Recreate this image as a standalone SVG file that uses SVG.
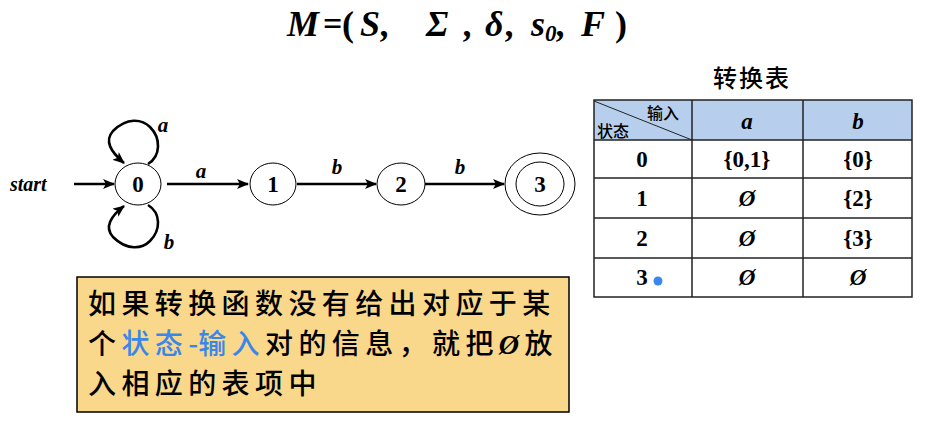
<svg xmlns="http://www.w3.org/2000/svg" width="930" height="425" viewBox="0 0 930 425">
<style>
.ser{font-family:"Liberation Serif","Times New Roman",serif;font-weight:bold;fill:#000}
.it{font-style:italic}
.cjk{font-family:"Noto Sans CJK SC","Noto Sans CJK JP",sans-serif}
.node{fill:#fff;stroke:#000;stroke-width:1}
.edge{fill:none;stroke:#000;stroke-width:2.6}
.grid{stroke:#222;stroke-width:1.5;fill:none}
.lbl{font-size:21px;text-anchor:middle}
.cell{font-size:23px;text-anchor:middle}
</style>
<defs>
<marker id="arr" viewBox="0 0 12 10" refX="11" refY="5" markerWidth="12" markerHeight="10" markerUnits="userSpaceOnUse" orient="auto">
<path d="M0,0 L12,5 L0,10 L3,5 z" fill="#000"/>
</marker>
</defs>
<rect width="930" height="425" fill="#fff"/>
<g id="title" class="ser it" font-size="36">
<text x="287" y="36" textLength="32" lengthAdjust="spacingAndGlyphs">M</text>
<text x="323" y="35" font-style="normal" font-size="34">=</text>
<text x="342" y="36" font-style="normal">(</text>
<text x="360" y="36">S</text>
<text x="381" y="36">,</text>
<text x="426" y="36">Σ</text>
<text x="464" y="36">,</text>
<text x="485" y="36">δ</text>
<text x="506" y="36">,</text>
<text x="531" y="36">s<tspan font-size="23" dy="5">0</tspan></text>
<text x="557" y="36">,</text>
<text x="581" y="36">F</text>
<text x="615" y="36" font-style="normal">)</text>
</g>
<g id="connectors">
<line class="edge" x1="74" y1="184" x2="114" y2="184" marker-end="url(#arr)"/>
<text class="ser it" x="10" y="191" font-size="20">start</text>
<path class="edge" d="M148,164 C161,156 161,138 150,127 C142,119 127,117 113,131 C104,141 111,152 124,163" marker-end="url(#arr)"/>
<text class="ser it lbl" x="163" y="132">a</text>
<path class="edge" d="M148,205 C161,213 161,230 150,241 C142,249 127,251 113,237 C104,227 111,216 124,206" marker-end="url(#arr)"/>
<text class="ser it lbl" x="169" y="249">b</text>
<line class="edge" x1="167" y1="184" x2="248" y2="184" marker-end="url(#arr)"/>
<text class="ser it lbl" x="201" y="178">a</text>
<line class="edge" x1="297" y1="184" x2="376" y2="184" marker-end="url(#arr)"/>
<text class="ser it lbl" x="337" y="174">b</text>
<line class="edge" x1="425" y1="184" x2="504" y2="184" marker-end="url(#arr)"/>
<text class="ser it lbl" x="460" y="174">b</text>
</g>
<g id="n0"><ellipse class="node" cx="138" cy="184" rx="23" ry="21"/><text class="ser cell" x="138" y="192">0</text></g>
<g id="n1"><ellipse class="node" cx="273" cy="184" rx="23" ry="21"/><text class="ser cell" x="273" y="192">1</text></g>
<g id="n2"><ellipse class="node" cx="401" cy="184" rx="24" ry="21"/><text class="ser cell" x="401" y="192">2</text></g>
<g id="n3"><ellipse class="node" cx="540" cy="184" rx="35" ry="31"/><ellipse class="node" cx="540" cy="184" rx="24" ry="22"/><text class="ser cell" x="540" y="192">3</text></g>
<g id="table">
<text class="cjk" x="752" y="87" font-size="24" text-anchor="middle" font-weight="500" letter-spacing="2">转换表</text>
<rect x="594" y="100" width="318" height="40" fill="#b7cfec"/>
<line x1="594" y1="101" x2="692" y2="140" stroke="#222" stroke-width="1"/>
<text class="cjk" x="647" y="119" font-size="16" font-weight="500">输入</text>
<text class="cjk" x="597" y="137" font-size="16" font-weight="500">状态</text>
<rect class="grid" x="594" y="100" width="318" height="197"/>
<line class="grid" x1="692" y1="100" x2="692" y2="297"/>
<line class="grid" x1="803" y1="100" x2="803" y2="297"/>
<line class="grid" x1="594" y1="140" x2="912" y2="140"/>
<line class="grid" x1="594" y1="178" x2="912" y2="178"/>
<line class="grid" x1="594" y1="218" x2="912" y2="218"/>
<line class="grid" x1="594" y1="258" x2="912" y2="258"/>
<text class="ser it cell" x="747" y="129" font-size="25">a</text>
<text class="ser it cell" x="858" y="129" font-size="25">b</text>
<text class="ser cell" x="642" y="167">0</text>
<text class="ser cell" x="747" y="167">{0,1}</text>
<text class="ser cell" x="858" y="167">{0}</text>
<text class="ser cell" x="642" y="206">1</text>
<text class="ser it cell" x="747" y="206">Ø</text>
<text class="ser cell" x="858" y="206">{2}</text>
<text class="ser cell" x="642" y="246">2</text>
<text class="ser it cell" x="747" y="246">Ø</text>
<text class="ser cell" x="858" y="246">{3}</text>
<text class="ser cell" x="642" y="285">3</text>
<circle cx="658" cy="281" r="4.5" fill="#3a86ea"/>
<text class="ser it cell" x="747" y="285">Ø</text>
<text class="ser it cell" x="858" y="285">Ø</text>
</g>
<g id="note">
<rect x="77" y="277" width="492" height="135" fill="#f9d88b" stroke="#000" stroke-width="1.5"/>
<text class="cjk" x="88" y="314" font-size="28" font-weight="500" letter-spacing="5.4">如果转换函数没有给出对应于某</text>
<text class="cjk" x="88" y="354" font-size="28" font-weight="500" letter-spacing="5.4">个<tspan fill="#3a86ea">状态</tspan><tspan fill="#3a86ea" letter-spacing="0">-</tspan><tspan fill="#3a86ea">输入</tspan>对的信息，就把<tspan font-family="Liberation Serif,serif" font-style="italic" font-weight="bold">Ø</tspan>放</text>
<text class="cjk" x="88" y="394" font-size="28" font-weight="500" letter-spacing="5.4">入相应的表项中</text>
</g>
</svg>
